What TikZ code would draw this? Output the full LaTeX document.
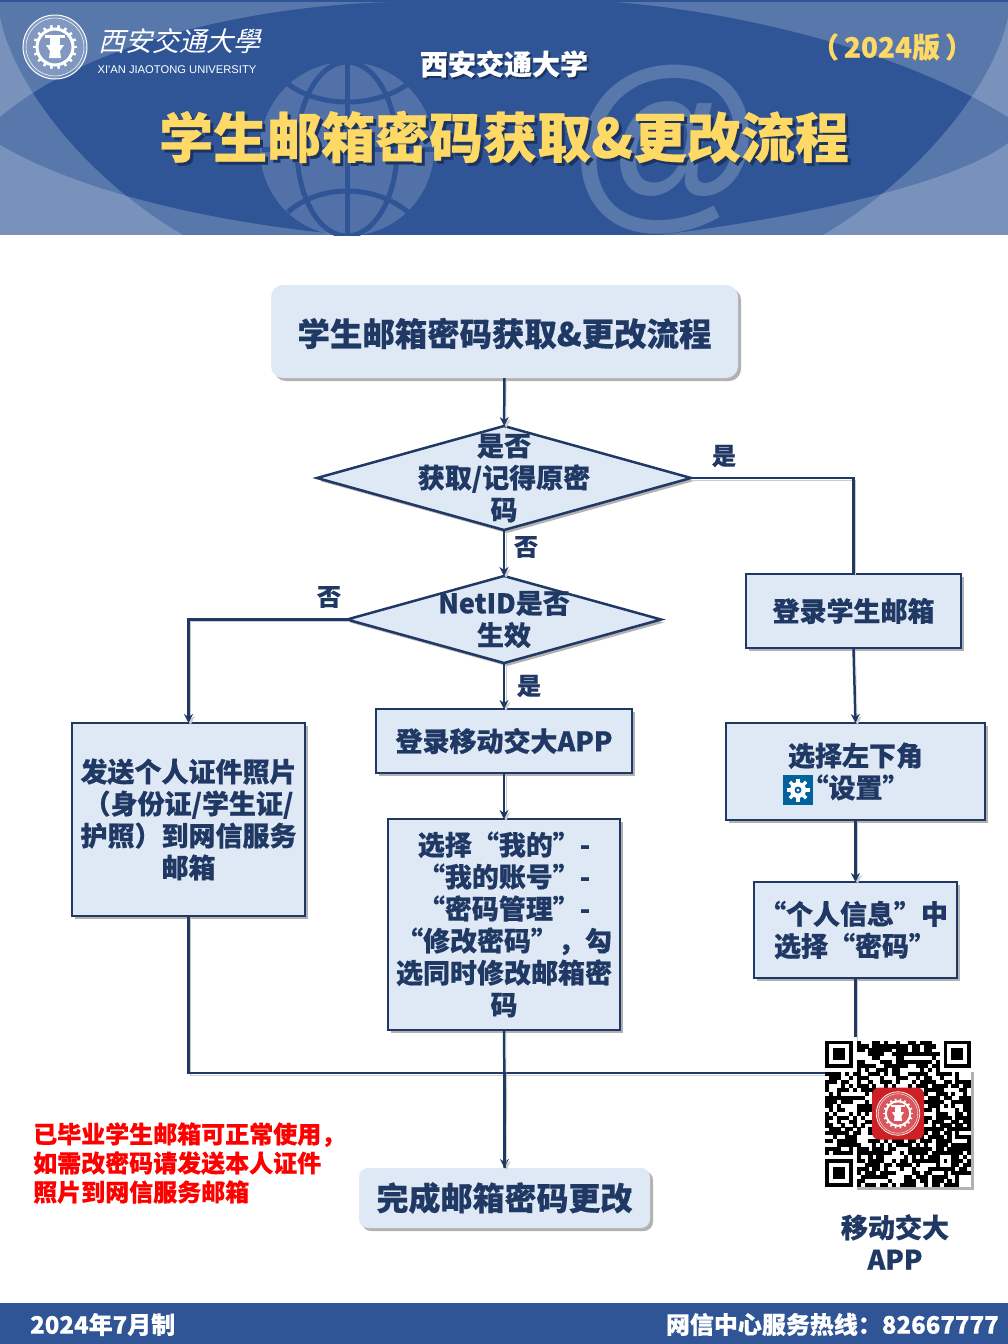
\documentclass[tikz,border=0pt]{standalone}
\usepackage{fontspec}
\setmainfont{Noto Sans CJK SC}[BoldFeatures={FakeBold=0.5}]
\newfontfamily\callifont[FakeSlant=0.25]{Noto Sans CJK SC}
\newfontfamily\logofont{Liberation Sans}
\newfontfamily\atfont{Liberation Sans}
\usetikzlibrary{shapes.geometric,arrows.meta,shadows}

\definecolor{bannerblue}{HTML}{2F5597}
\definecolor{boxfill}{HTML}{DEE9F5}
\definecolor{inkblue}{HTML}{1F3864}
\definecolor{goldtext}{HTML}{FFD966}
\definecolor{iconblue}{HTML}{00639C}
\definecolor{sealred}{HTML}{CC1F26}
\definecolor{titleshade}{HTML}{1C3560}

\tikzset{
  softshadow/.style={drop shadow={shadow xshift=3pt,shadow yshift=-3pt,fill=black,opacity=0.3}},
  flowtext/.style={text=inkblue,font=\fontsize{27}{32}\selectfont\bfseries,align=center},
  nudged/.style={execute at begin node={\rule{0pt}{1em}}},
  procbox/.style={draw=inkblue,line width=2.5pt,fill=boxfill,outer sep=0pt,inner sep=0pt,softshadow,flowtext},
  capbox/.style={fill=boxfill,rounded corners=12pt,outer sep=0pt,inner sep=0pt,softshadow,flowtext},
  decibox/.style={diamond,draw=inkblue,line width=2.5pt,fill=boxfill,outer sep=0pt,inner sep=0pt,aspect=3.6,softshadow},
  flowline/.style={draw=inkblue,line width=2.5pt,preaction={draw=black!20,transform canvas={xshift=2pt,yshift=-2pt}}},
  flowarrow/.style={flowline,-{Stealth[length=9pt,width=9pt]}},
  flowlabel/.style={text=inkblue,font=\fontsize{24}{28}\selectfont\bfseries},
  bandfade/.style={fill=white,fill opacity=0.2},
  sideline/.style={inner sep=0pt,font=\fontsize{24}{30}\selectfont\bfseries,text=white},
}

% seal: rings, gear and anvil
\newcommand{\sealmark}[4]{%
  \begin{scope}[shift={(#1,#2)},scale=#3]
    \fill[white,fill opacity=0.25] (0,0) circle (32);
    \draw[#4,line width=1pt*#3] (0,0) circle (32);
    \draw[#4,line width=0.5pt*#3] (0,0) circle (29);
    \draw[#4,line width=3pt*#3] (0,0) circle (18);
    \foreach \toothang in {0,20,...,340}
      \draw[#4,line width=2.5pt*#3] (\toothang:18) -- (\toothang:22);
    \fill[#4] (-9,-2) -- (9,-2) -- (5,4) -- (6,11) -- (-6,11) -- (-5,4) -- cycle;
    \fill[#4] (-10,-12) rectangle (10,-9);
    \fill[#4] (-5,-9) rectangle (5,-2);
  \end{scope}}

\begin{document}
\begin{tikzpicture}[x=1pt,y=-1pt]
\useasboundingbox (0,0) rectangle (1008,1344);

% banner
\fill[bannerblue] (0,0) rectangle (1008,235);
\begin{scope}
  \clip (0,0) rectangle (1008,235);
  \fill[bandfade] (393,2) .. controls (260,5) and (90,40) .. (0,117) -- (0,2) -- cycle;
  \fill[bandfade] (615,2) .. controls (740,12) and (900,50) .. (1008,117) -- (1008,2) -- cycle;
  \fill[bandfade] (0,145) .. controls (60,180) and (170,218) .. (345,235) -- (0,235) -- cycle;
  \fill[bandfade] (1008,143) .. controls (960,180) and (820,215) .. (660,235) -- (1008,235) -- cycle;
  \fill[bandfade] (0,17) .. controls (12,80) and (80,175) .. (183,235) -- (0,235) -- cycle;
  \fill[bandfade] (1008,17) .. controls (996,80) and (925,175) .. (823,235) -- (1008,235) -- cycle;
  % globe
  \fill[white,fill opacity=0.17] (347,149) ellipse (87 and 87);
  \begin{scope}[draw=bannerblue,line width=5pt]
    \draw (347,62) -- (347,236);
    \draw (347,149) ellipse (50 and 87);
    \draw (262,149) -- (434,149);
    \draw (288,84) .. controls (320,108) and (374,108) .. (408,84);
    \draw (288,212) .. controls (320,184) and (374,184) .. (408,212);
  \end{scope}
  \node[text=white,text opacity=0.2,inner sep=0pt,font=\atfont\fontsize{195}{195}\selectfont\bfseries] (atsign) at (666,150) {@};
\end{scope}

% logo
\sealmark{55}{47}{1}{white}
\node[text=white,inner sep=0pt,font=\callifont\fontsize{27}{30}\selectfont] (logoname) at (179,41) {西安交通大學};
\node[text=white,inner sep=0pt,font=\logofont\fontsize{11.2}{13}\selectfont] (logoen) at (177,70) {XI'AN JIAOTONG UNIVERSITY};

% header texts
\node[text=titleshade,inner sep=0pt,font=\fontsize{28}{32}\selectfont\bfseries] at (506,66) {西安交通大学};
\node[text=white,inner sep=0pt,font=\fontsize{28}{32}\selectfont\bfseries] (school) at (504,64) {西安交通大学};
\node[text=goldtext,inner sep=0pt,font=\fontsize{28}{32}\selectfont\bfseries] (edition) at (892,47) {（\hspace*{5pt}2024版\hspace*{5pt}）};
\node[text=titleshade,inner sep=0pt,font=\fontsize{54}{58}\selectfont\bfseries] at (507,140) {学生邮箱密码获取\&更改流程};
\node[text=goldtext,inner sep=0pt,font=\fontsize{54}{58}\selectfont\bfseries] (bigtitle) at (504,137) {学生邮箱密码获取\&更改流程};

% flow boxes
\node[capbox,nudged,minimum width=467pt,minimum height=93pt,font=\fontsize{32.4}{36}\selectfont\bfseries] (start) at (504.5,331.5) {学生邮箱密码获取\&更改流程};
\node[decibox,minimum width=374pt,minimum height=104pt,label={[flowtext,nudged]center:是否\\获取/记得原密\\码}] (askpass) at (504,478) {};
\node[decibox,minimum width=314pt,minimum height=87pt,label={[flowtext,nudged]center:NetID是否\\生效}] (asknetid) at (504,619.5) {};
\node[procbox,minimum width=215pt,minimum height=74pt] (login) at (853.5,611) {登录学生邮箱};
\node[procbox,minimum width=256pt,minimum height=64pt] (appin) at (504,741) {登录移动交大APP};
\node[procbox,nudged,minimum width=233pt,minimum height=193pt] (sendid) at (188.5,819.5) {发送个人证件照片\\（身份证/学生证/\\护照）到网信服务\\邮箱};
\node[procbox,nudged,minimum width=232pt,minimum height=211pt] (steps) at (504,924.5) {选择“我的”-\\“我的账号”-\\“密码管理”-\\“修改密码”，勾\\选同时修改邮箱密\\码};
\node[procbox,nudged,minimum width=259pt,minimum height=97pt] (settings) at (855.5,771.5) {选择左下角\\“设置”};
\node[procbox,nudged,minimum width=203pt,minimum height=96pt,align=left] (profile) at (855.5,930) {\hspace*{-4pt}“个人信息”中\\\hspace*{11pt}选择“密码”};
\node[capbox,minimum width=291pt,minimum height=60pt,rounded corners=9pt,font=\fontsize{32}{36}\selectfont\bfseries] (finish) at (504.5,1198) {完成邮箱密码更改};

% gear icon
\node[fill=iconblue,minimum size=30pt,inner sep=0pt] (gearicon) at (798,790) {};
\foreach \toothang in {0,45,...,315}
  \draw[white,line width=3.5pt] (gearicon.center) ++(\toothang:6) -- ++(\toothang:5.5);
\fill[white] (gearicon.center) circle (8);
\fill[iconblue] (gearicon.center) circle (3.5);
\fill[white] (gearicon.center) circle (1.5);

% connectors
\coordinate (mergept) at (505,1073);
\draw[flowarrow] (start) -- (askpass);
\draw[flowarrow] (askpass) -- (asknetid);
\draw[flowline] (askpass.east) -| (login.north);
\draw[flowarrow] (asknetid.west) -| (sendid.north);
\draw[flowarrow] (asknetid) -- (appin);
\draw[flowarrow] (appin) -- (steps);
\draw[flowarrow] (login.south) -- (settings.north);
\draw[flowarrow] (settings) -- (profile);
\draw[flowline] (profile.south) |- (mergept) -| (sendid.south);
\draw[flowarrow] (steps) -- (finish);
\draw[flowline] (mergept) -- (finish.north);

% branch labels
\node[flowlabel] (yesone) at (724,456) {是};
\node[flowlabel] (noone) at (526,547) {否};
\node[flowlabel] (notwo) at (329,597) {否};
\node[flowlabel] (yestwo) at (529,686) {是};

% qr code
\node[fill=white,minimum size=146pt,inner sep=0pt,outer sep=0pt,softshadow] (qrcode) at (898,1113.5) {};
\begin{scope}[shift={(825,1040.5)},x=3.95pt,y=-3.95pt]
  \pgfmathsetseed{77}
  \foreach \qx in {0,...,36}
    \foreach \qy in {0,...,36} {
      \pgfmathrandominteger{\qbit}{0}{9}
      \ifnum\qbit>3 \fill[black] (\qx,\qy) rectangle ++(1.03,1.03); \fi
    }
  \foreach \qx/\qy in {0/0,30/0,0/30} {
    \fill[white] (\qx-1,\qy-1) rectangle ++(9,9);
    \fill[black] (\qx,\qy) rectangle ++(7,7);
    \fill[white] (\qx+1,\qy+1) rectangle ++(5,5);
    \fill[black] (\qx+2,\qy+2) rectangle ++(3,3);
  }
  \fill[black] (28,28) rectangle ++(5,5);
  \fill[white] (29,29) rectangle ++(3,3);
  \fill[black] (30,30) rectangle ++(1,1);
\end{scope}
\node[fill=sealred,minimum size=52pt,rounded corners=7pt,inner sep=0pt] (applogo) at (898,1113.5) {};
\sealmark{898}{1113.5}{0.68}{white}
\node[flowtext] (appname) at (895,1242) {移动交大\\APP};

% note and footer
\node[anchor=west,inner sep=0pt,text=red,align=left,font=\fontsize{24}{29}\selectfont\bfseries] (gradnote) at (33,1163) {已毕业学生邮箱可正常使用，\\如需改密码请发送本人证件\\照片到网信服务邮箱};
\fill[bannerblue] (0,1303) rectangle (1008,1344);
\node[sideline,anchor=west] (madedate) at (30,1324.5) {2024年7月制};
\node[sideline,anchor=east] (hotline) at (999,1324.5) {网信中心服务热线：82667777};
\end{tikzpicture}
\end{document}
